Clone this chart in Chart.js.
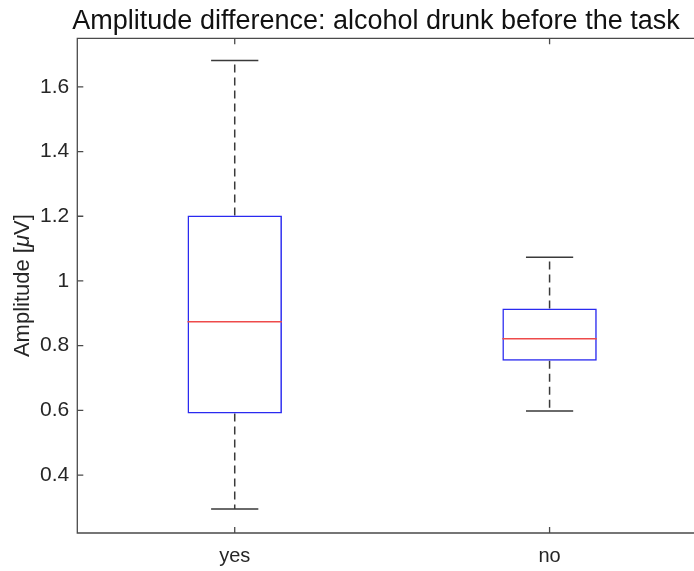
<!DOCTYPE html>
<html>
<head>
<meta charset="utf-8">
<script src="https://cdn.jsdelivr.net/npm/chart.js@4.4.1/dist/chart.umd.min.js"></script>
<style>
  html, body { margin: 0; padding: 0; background: #ffffff; overflow: hidden; }
  #wrap { position: absolute; left: 0; top: 0; width: 694px; height: 571px; overflow: hidden; }
  canvas { position: absolute; left: 0; top: 0; }
</style>
</head>
<body>
<div id="wrap"><canvas id="chart" width="752" height="571"></canvas></div>
<script>
// Box-plot summary for each group
const categories   = ['yes', 'no'];
const upperWhisker = [1.681, 1.073];
const upperQuart   = [1.202, 0.915];
const medians      = [0.874, 0.821];
const lowerQuart   = [0.590, 0.753];
const lowerWhisker = [0.295, 0.598];
const yTicks       = [0.4, 0.6, 0.8, 1, 1.2, 1.4, 1.6];
const yMin = 0.221, yMax = 1.750;
const titleText = 'Amplitude difference: alcohol drunk before the task';

const AXIS_COLOR = '#4a4a4a';
const TEXT_COLOR = '#262626';
const BOX_COLOR = '#2a2af0';
const MEDIAN_COLOR = '#ee4a4a';
const WHISKER_COLOR = '#3a3a3a';
const FONT = "'Liberation Sans', Arial, Helvetica, sans-serif";

// Whiskers, caps and medians drawn from the same summary arrays
const boxExtras = {
  id: 'boxExtras',
  beforeDatasetsDraw(chart) {
    const {ctx, scales: {x, y}} = chart;
    const meta = chart.getDatasetMeta(0);
    ctx.save();
    ctx.lineWidth = 1.5;
    ctx.strokeStyle = WHISKER_COLOR;
    categories.forEach((c, i) => {
      const cx = x.getPixelForValue(i);
      const half = meta.data[i].width / 2;
      // dashed whiskers
      ctx.setLineDash([8, 5]);
      ctx.beginPath();
      ctx.moveTo(cx, y.getPixelForValue(upperQuart[i]));
      ctx.lineTo(cx, y.getPixelForValue(upperWhisker[i]));
      ctx.moveTo(cx, y.getPixelForValue(lowerQuart[i]));
      ctx.lineTo(cx, y.getPixelForValue(lowerWhisker[i]));
      ctx.stroke();
      // solid caps
      ctx.setLineDash([]);
      ctx.beginPath();
      const capHalf = half / 2;
      ctx.moveTo(cx - capHalf, y.getPixelForValue(upperWhisker[i]));
      ctx.lineTo(cx + capHalf, y.getPixelForValue(upperWhisker[i]));
      ctx.moveTo(cx - capHalf, y.getPixelForValue(lowerWhisker[i]));
      ctx.lineTo(cx + capHalf, y.getPixelForValue(lowerWhisker[i]));
      ctx.stroke();
    });
    ctx.restore();
  },
  afterDatasetsDraw(chart) {
    const {ctx, scales: {x, y}} = chart;
    const meta = chart.getDatasetMeta(0);
    ctx.save();
    ctx.lineWidth = 1.5;
    ctx.strokeStyle = MEDIAN_COLOR;
    categories.forEach((c, i) => {
      const cx = x.getPixelForValue(i);
      const half = meta.data[i].width / 2;
      const my = y.getPixelForValue(medians[i]);
      ctx.beginPath();
      ctx.moveTo(cx - half, my);
      ctx.lineTo(cx + half, my);
      ctx.stroke();
    });
    ctx.restore();
  }
};

// Axes frame with inward tick marks, plus title and y label
const axesFrame = {
  id: 'axesFrame',
  afterDraw(chart) {
    const {ctx, chartArea: a, scales: {x, y}} = chart;
    const tl = 6;
    ctx.save();
    ctx.strokeStyle = AXIS_COLOR;
    ctx.lineWidth = 1.3;
    ctx.beginPath();
    ctx.moveTo(a.right, a.top);
    ctx.lineTo(a.left, a.top);
    ctx.lineTo(a.left, a.bottom);
    ctx.lineTo(a.right, a.bottom);
    ctx.stroke();
    ctx.beginPath();
    y.ticks.forEach((t, i) => {
      const py = y.getPixelForTick(i);
      ctx.moveTo(a.left, py); ctx.lineTo(a.left + tl, py);
    });
    x.ticks.forEach((t, i) => {
      const px = x.getPixelForTick(i);
      ctx.moveTo(px, a.bottom); ctx.lineTo(px, a.bottom - tl);
      ctx.moveTo(px, a.top); ctx.lineTo(px, a.top + tl);
    });
    ctx.stroke();

    // title
    ctx.fillStyle = '#111111';
    ctx.font = `27px ${FONT}`;
    ctx.textAlign = 'center';
    ctx.textBaseline = 'alphabetic';
    ctx.fillText(titleText, 376, 29);

    // y-axis label with an italic mu
    const cy = (a.top + a.bottom) / 2;
    ctx.translate(23, cy);
    ctx.rotate(-Math.PI / 2);
    ctx.fillStyle = TEXT_COLOR;
    ctx.textBaseline = 'middle';
    const parts = [
      {t: 'Amplitude [', f: `22px ${FONT}`},
      {t: '\u03BC', f: `italic 22px ${FONT}`},
      {t: 'V]', f: `22px ${FONT}`}
    ];
    let total = 0;
    parts.forEach(p => { ctx.font = p.f; p.w = ctx.measureText(p.t).width; total += p.w; });
    let px = -total / 2;
    parts.forEach(p => { ctx.font = p.f; ctx.textAlign = 'left'; ctx.fillText(p.t, px, 0); px += p.w; });
    ctx.restore();
  }
};

new Chart(document.getElementById('chart'), {
  type: 'bar',
  data: {
    labels: categories,
    datasets: [{
      data: lowerQuart.map((v, i) => [v, upperQuart[i]]),
      backgroundColor: 'rgba(0,0,0,0)',
      borderColor: BOX_COLOR,
      borderWidth: 1.5,
      borderSkipped: false,
      barPercentage: 0.3,
      categoryPercentage: 1.0
    }]
  },
  options: {
    responsive: false,
    animation: false,
    devicePixelRatio: 1,
    layout: { padding: { left: 0, right: 45, top: 38.3, bottom: 0 } },
    plugins: {
      legend: { display: false },
      tooltip: { enabled: false },
      title: { display: false }
    },
    scales: {
      x: {
        offset: true,
        grid: { display: false, drawTicks: false },
        border: { display: false },
        ticks: { color: TEXT_COLOR, font: { family: FONT, size: 20 }, padding: 11.5 },
        afterFit(scale) { scale.height = 38; }
      },
      y: {
        min: yMin,
        max: yMax,
        afterBuildTicks(scale) { scale.ticks = yTicks.map(v => ({ value: v })); },
        grid: { display: false, drawTicks: false },
        border: { display: false },
        ticks: {
          color: TEXT_COLOR,
          font: { family: FONT, size: 21 },
          padding: 8,
          callback: v => String(v)
        },
        afterFit(scale) { scale.width = 77.3; }
      }
    }
  },
  plugins: [boxExtras, axesFrame]
});
</script>
</body>
</html>
